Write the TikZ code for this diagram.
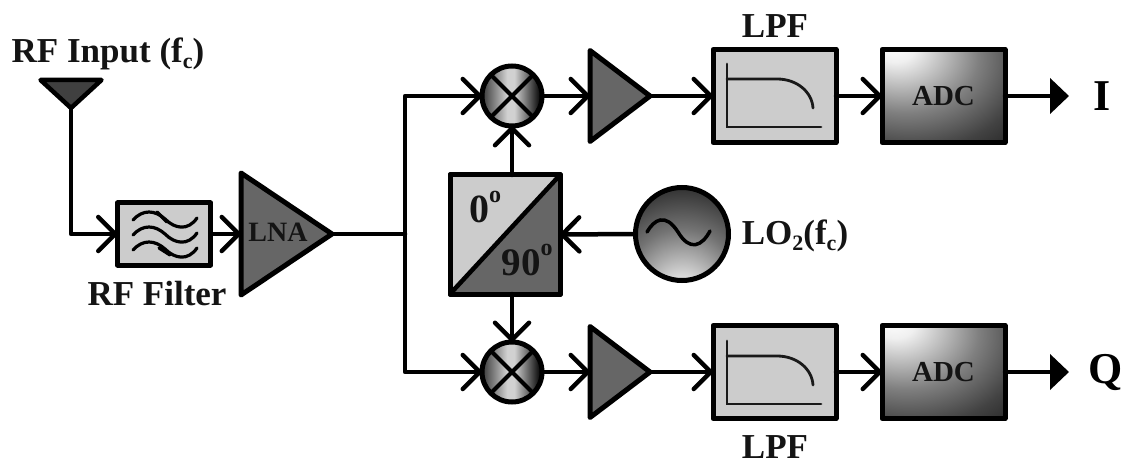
\documentclass[tikz,border=0pt]{standalone}
\usepackage{fontspec}
\setmainfont{Liberation Serif}
\usetikzlibrary{arrows.meta,shapes.geometric}
\pgfdeclareradialshading{adcshade}{\pgfpoint{-21bp}{28bp}}{color(0bp)=(white);color(8bp)=(black!6);color(30bp)=(black!50);color(46bp)=(black!74);color(62bp)=(black!90);color(78bp)=(black);color(120bp)=(black)}
\pgfdeclareradialshading{loshade}{\pgfpoint{0bp}{-36bp}}{color(0bp)=(white);color(8bp)=(black!10);color(30bp)=(black!55);color(50bp)=(black!85);color(64bp)=(black);color(120bp)=(black)}
\pgfdeclarehorizontalshading{mixshade}{100bp}{color(0bp)=(black!78);color(25bp)=(black!78);color(46bp)=(black!18);color(52bp)=(black!18);color(72bp)=(black!92);color(100bp)=(black!92)}
\newcommand{\subc}{\raisebox{-0.18em}{\fontsize{22}{22}\selectfont c}}
\newcommand{\supo}{\raisebox{0.5em}{\fontsize{24}{24}\selectfont o}}
\tikzset{
  x=1pt,y=-1pt,
  wire/.style={line width=4.5pt,line cap=round,line join=round,draw=black},
  inarrow/.style={wire,-{Straight Barb[length=17pt,width=34pt,line width=4.5pt,round]}},
  outarrow/.style={wire,-{Triangle[length=19pt,width=35pt]}},
  graybox/.style={draw=black,line width=5pt,fill=black!20,rectangle,inner sep=0pt,outer sep=0pt,line join=round},
  adcbox/.style={draw=black,line width=5pt,rectangle,inner sep=0pt,outer sep=0pt,shading=adcshade,minimum width=123pt,minimum height=93pt,line join=round},
  amp/.style={isosceles triangle,isosceles triangle stretches,draw=black,line width=5pt,fill=black!60,inner sep=0pt,outer sep=0pt,anchor=lower side,line join=round},
  mixer/.style={circle,draw=black,line width=5pt,minimum size=60pt,inner sep=0pt,outer sep=0pt,shading=mixshade},
  txt/.style={font=\fontsize{35}{35}\selectfont\bfseries,inner sep=0pt,text=black!92},
  small/.style={font=\fontsize{29}{29}\selectfont\bfseries,inner sep=0pt,text=black!92},
  curve/.style={line width=2.8pt,line cap=round,draw=black!90},
  wave/.style={line width=3.2pt,line cap=round,draw=black},
}
\begin{document}
\begin{tikzpicture}
\useasboundingbox (0,0) rectangle (1127,465);
\fill[white] (0,0) rectangle (1127,465);
% labels
\node[txt] (rfin) at (108,54) {RF Input (f\subc)};
\node[txt] (rff) at (157,294) {RF Filter};
\node[txt] (lpft) at (775,26) {LPF};
\node[txt] (lpfb) at (775,447) {LPF};
\node[txt] (lolab) at (795,236) {LO\raisebox{-0.18em}{\fontsize{22}{22}\selectfont 2}(f\subc)};
\node[font=\fontsize{44}{44}\selectfont\bfseries,inner sep=0pt] (ilab) at (1102,96) {I};
\node[font=\fontsize{44}{44}\selectfont\bfseries,inner sep=0pt] (qlab) at (1106,372) {Q};
% antenna
\node[isosceles triangle,isosceles triangle stretches,shape border rotate=270,draw=black,line width=4.5pt,fill=black!75,minimum width=61pt,minimum height=28pt,inner sep=0pt,outer sep=0pt,anchor=apex,line join=round] (ant) at (71,108) {};
% blocks
\node[graybox,minimum width=93pt,minimum height=62pt] (filt) at (164,234) {};
\node[amp,minimum width=122pt,minimum height=91pt] (lna) at (241,234) {};
\node[inner sep=0pt,font=\fontsize{28}{28}\selectfont\bfseries,text=black!92] (lnat) at (278,232) {LNA};
\node[mixer] (mt) at (512,96) {};
\node[mixer] (mb) at (512,372) {};
\node[amp,minimum width=91pt,minimum height=60pt] (at) at (590,96) {};
\node[amp,minimum width=91pt,minimum height=60pt] (ab) at (590,372) {};
\node[graybox,minimum width=123pt,minimum height=93pt] (lt) at (774.5,96) {};
\node[graybox,minimum width=123pt,minimum height=93pt] (lb) at (774.5,372) {};
\node[adcbox] (adt) at (943.5,96) {};
\node[adcbox] (adb) at (943.5,372) {};
\node[small] at (adt) {ADC};
\node[small] at (adb) {ADC};
\node[graybox,minimum width=110pt,minimum height=119pt] (split) at (505,234.5) {};
\fill[black!60] (split.north east) -- (split.south east) -- (split.south west) -- cycle;
\draw[black,line width=5pt,line join=round] (split.north west) rectangle (split.south east);
\draw[black,line width=4.5pt] (split.south west) -- (split.north east);
\node[font=\fontsize{40}{40}\selectfont\bfseries,inner sep=0pt,text=black!92] (zero) at (485,207) {0\supo};
\node[font=\fontsize{39}{39}\selectfont\bfseries,inner sep=0pt,text=black!92] (ninety) at (527,260) {90\supo};
\node[circle,draw=black,line width=5pt,minimum size=93pt,inner sep=0pt,outer sep=0pt,shading=loshade] (lo) at (682,234) {};
% mixer crosses
\foreach \m in {mt,mb}{
  \draw[black,line width=4pt] (\m.45) -- (\m.225);
  \draw[black,line width=4pt] (\m.135) -- (\m.315);
}
% filter waves
\foreach \d in {0,15,30}{
  \draw[wave] (133,220+\d) .. controls (143,209+\d) and (155,210+\d) .. (165,219+\d) .. controls (175,229+\d) and (188,231+\d) .. (197,218+\d);
}
\draw[wave] (157,212) -- (167,222);
\draw[wave] (159,248) -- (170,255);
% LPF curves
\foreach \b/\dy in {lt/0,lb/277}{
  \draw[curve] (727,64+\dy) -- (727,127+\dy) -- (821,127+\dy);
  \draw[curve] (727,79+\dy) -- (777,79+\dy) .. controls (797,79+\dy) and (812,92+\dy) .. (813,108+\dy);
}
% sine
\draw[line width=3.5pt,line cap=round,draw=black] (647,232) .. controls (654,220) and (665,212) .. (678,232) .. controls (690,252) and (702,246) .. (710,231);
% connectors
\coordinate (j) at (405,234);
\coordinate (jt) at (405,96);
\coordinate (jb) at (405,372);
\coordinate (ai) at (71,234);
\draw[inarrow] (ant.apex) -- (ai) -- (filt.west);
\draw[inarrow] (filt.east) -- (lna.lower side);
\draw[wire] (lna.apex) -- (j);
\draw[inarrow] (j) -- (jt) -- (mt.west);
\draw[inarrow] (j) -- (jb) -- (mb.west);
\draw[inarrow] (mt.east) -- (at.lower side);
\draw[inarrow] (mb.east) -- (ab.lower side);
\draw[inarrow] (at.apex) -- (lt.west);
\draw[inarrow] (ab.apex) -- (lb.west);
\draw[inarrow] (lt.east) -- (adt.west);
\draw[inarrow] (lb.east) -- (adb.west);
\coordinate (ot) at (1069,96);
\coordinate (ob) at (1069,372);
\draw[outarrow] (adt.east) -- (ot);
\draw[outarrow] (adb.east) -- (ob);
\draw[inarrow] (lo.west) -- (split.east);
\draw[inarrow] (split.north -| mt.south) -- (mt.south);
\draw[inarrow] (split.south -| mb.north) -- (mb.north);
\end{tikzpicture}
\end{document}
